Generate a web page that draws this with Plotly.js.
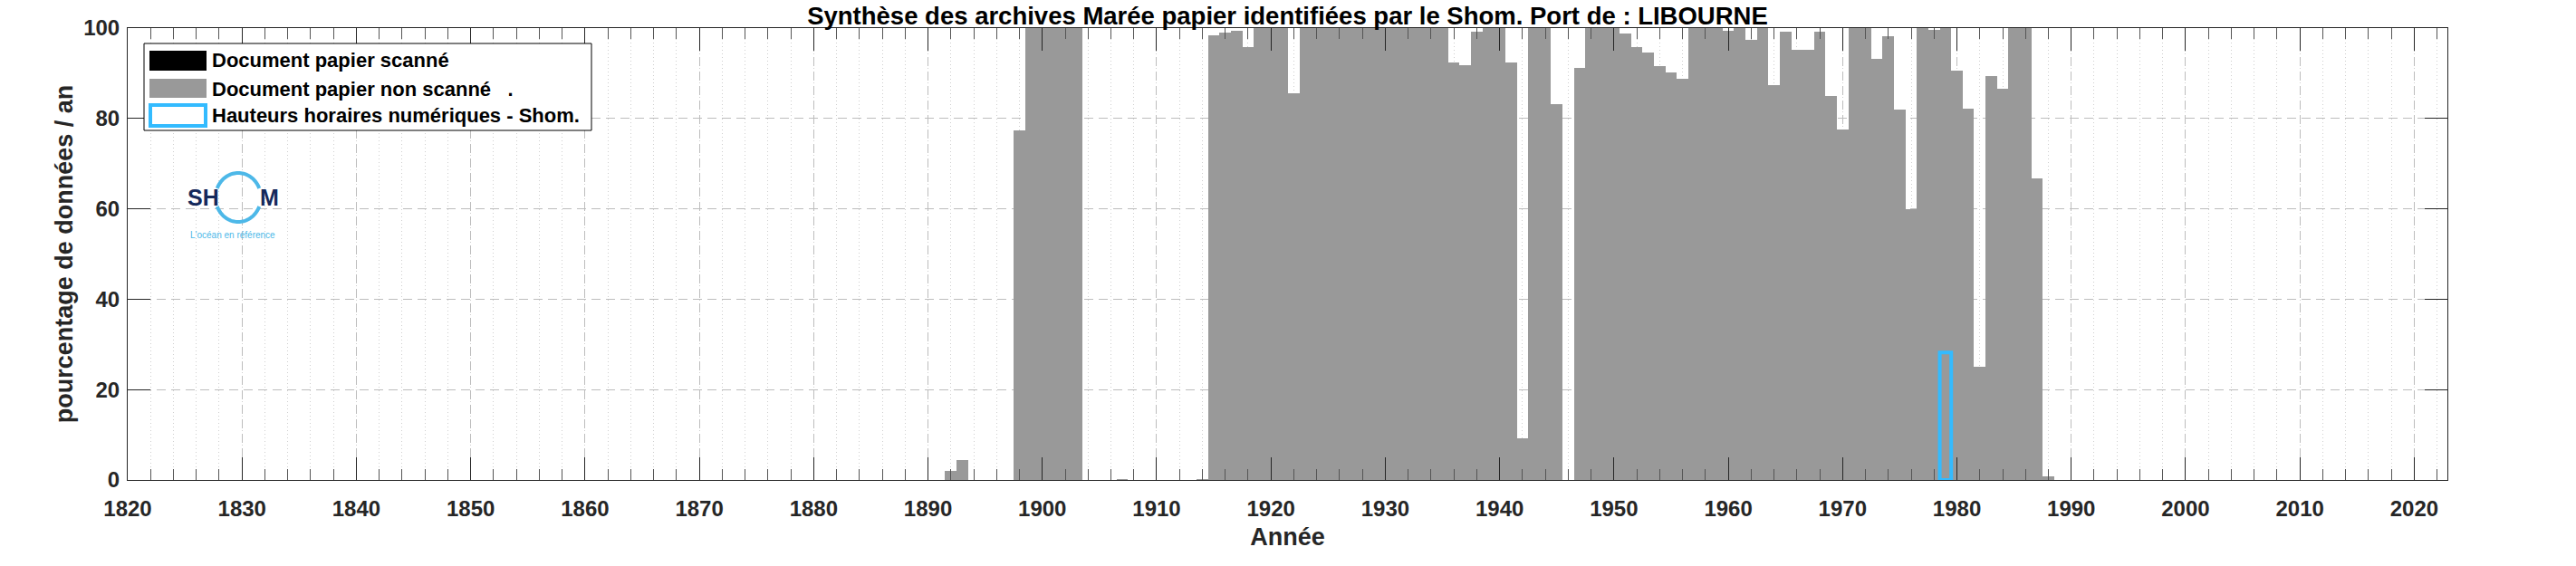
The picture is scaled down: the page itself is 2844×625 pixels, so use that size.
<!DOCTYPE html>
<html>
<head>
<meta charset="utf-8">
<script src="https://cdn.plot.ly/plotly-3.0.1.min.js"></script>
<style>
html,body{margin:0;padding:0;background:#ffffff;}
#chart{width:2844px;height:625px;}
</style>
</head>
<body>
<div id="chart"></div>
<script>
// ---------- DATA ----------
const chartTitle = "Synthèse des archives Marée papier identifiées par le Shom. Port de : LIBOURNE";
const xAxisTitle = "Année";
const yAxisTitle = "pourcentage de données / an";

// Document papier non scanné (% of data per year)
const nonScannedYears = [
  1892,1893,1898,1899,1900,1901,1902,1903,1907,1914,
  1915,1916,1917,1918,1919,1920,1921,1922,1923,1924,
  1925,1926,1927,1928,1929,1930,1931,1932,1933,1934,
  1935,1936,1937,1938,1939,1940,1941,1942,1943,1944,
  1945,1947,1948,1949,1950,1951,1952,1953,1954,1955,
  1956,1957,1958,1959,1960,1961,1962,1963,1964,1965,
  1966,1967,1968,1969,1970,1971,1972,1973,1974,1975,
  1976,1977,1978,1979,1980,1981,1982,1983,1984,1985,
  1986,1987,1988
];
const nonScannedValues = [
  2.0,4.5,77.3,100,100,100,100,100,0.2,0.2,
  98.3,98.9,99.4,95.7,100,100,100,85.5,100,100,
  100,100,100,100,100,100,100,100,100,100,
  100,92.4,91.8,99.2,100,100,92.3,9.3,100,100,
  83.1,91.2,100,100,100,98.7,95.7,94.5,91.5,90.1,
  88.8,100,100,100,99.5,100,97.3,100,87.4,99.2,
  95.1,95.1,99.2,85.0,77.5,100,100,93.2,98.1,81.9,
  59.9,100,99.7,100,90.5,82.2,25.1,89.3,86.6,100,
  100,66.8,0.9
];

// Document papier scanné : none for this port
const scannedYears = [];
const scannedValues = [];

// Hauteurs horaires numériques - Shom.
const digitalYears = [1979];
const digitalValues = [28.2];

const legendLabels = [
  "Document papier scanné",
  "Document papier non scanné   .",
  "Hauteurs horaires numériques - Shom."
];

const xTickVals = [1820,1830,1840,1850,1860,1870,1880,1890,1900,1910,1920,1930,1940,1950,1960,1970,1980,1990,2000,2010,2020];
const xTickText = ["1820","1830","1840","1850","1860","1870","1880","1890","1900","1910","1920","1930","1940","1950","1960","1970","1980","1990","2000","2010","2020"];
const yTickVals = [0,20,40,60,80,100];
const yTickText = ["0","20","40","60","80","100"];

// ---------- STYLE ----------
const FONT = "Liberation Sans, Arial, Helvetica, sans-serif";
const GRAY = "#999999";
const BLUE = "#33BBFF";
const AXC = "#262626";

const W = 2844, H = 625;
const M = {l:141, r:142, t:31, b:95};
const PW = W - M.l - M.r, PH = H - M.t - M.b;
const px = v => (v - M.l) / PW;          // pixel x -> paper x
const py = v => (H - M.b - v) / PH;      // pixel y -> paper y

const traces = [
  {
    type:'bar', name:legendLabels[1],
    x:nonScannedYears, y:nonScannedValues, width:1,
    marker:{color:GRAY, line:{width:0}},
    hoverinfo:'x+y'
  },
  {
    type:'bar', name:legendLabels[0],
    x:scannedYears, y:scannedValues, width:1,
    marker:{color:'#000000', line:{width:0}},
    hoverinfo:'x+y'
  },
  {
    type:'bar', name:legendLabels[2],
    x:digitalYears, y:digitalValues, width:1,
    marker:{color:'rgba(0,0,0,0)', line:{color:BLUE, width:4}},
    hoverinfo:'x+y'
  }
];

// ---------- custom legend (box, swatches, labels) ----------
const shapes = [];
const annotations = [];
shapes.push({type:'rect', xref:'paper', yref:'paper', layer:'above',
  x0:px(159), x1:px(653), y0:py(48), y1:py(144),
  line:{color:'#000000', width:1}, fillcolor:'#ffffff'});
const rowsY = [67, 98, 128];
shapes.push({type:'rect', xref:'paper', yref:'paper', layer:'above',
  x0:px(165), x1:px(228), y0:py(56), y1:py(78), line:{width:0}, fillcolor:'#000000'});
shapes.push({type:'rect', xref:'paper', yref:'paper', layer:'above',
  x0:px(165), x1:px(228), y0:py(87), y1:py(108), line:{width:0}, fillcolor:GRAY});
shapes.push({type:'rect', xref:'paper', yref:'paper', layer:'above',
  x0:px(166), x1:px(227), y0:py(116), y1:py(139), line:{color:BLUE, width:4}, fillcolor:'#ffffff'});
legendLabels.forEach((t,i) => {
  annotations.push({xref:'paper', yref:'paper', x:px(232), y:py(rowsY[i]),
    xanchor:'left', yanchor:'middle', showarrow:false, text:t,
    font:{family:FONT, size:22, color:'#000000', weight:'bold'}});
});

// ---------- SHOM logo (decorative) ----------
function arc(cx, cy, rx, ry, a0, a1){
  let d = '';
  const n = 40;
  for(let i=0;i<=n;i++){
    const a = (a0 + (a1-a0)*i/n) * Math.PI/180;
    const X = px(cx + rx*Math.cos(a)), Y = py(cy - ry*Math.sin(a));
    d += (i===0?'M':'L') + X + ',' + Y + ' ';
  }
  return d;
}
shapes.push({type:'path', xref:'paper', yref:'paper', layer:'above',
  path:arc(263,218,25,27,22,158), line:{color:'#4DB8E8', width:4}});
shapes.push({type:'path', xref:'paper', yref:'paper', layer:'above',
  path:arc(263,218,25,27,202,338), line:{color:'#4DB8E8', width:4}});
annotations.push({xref:'paper', yref:'paper', x:px(224), y:py(218), xanchor:'center', yanchor:'middle',
  showarrow:false, text:'SH', font:{family:FONT, size:25, color:'#15295B', weight:'bold'}});
annotations.push({xref:'paper', yref:'paper', x:px(297), y:py(218), xanchor:'center', yanchor:'middle',
  showarrow:false, text:'M', font:{family:FONT, size:25, color:'#15295B', weight:'bold'}});
annotations.push({xref:'paper', yref:'paper', x:px(257), y:py(259), xanchor:'center', yanchor:'middle',
  showarrow:false, text:"L'océan en référence", font:{family:FONT, size:10, color:'#4DB8E8'}});

const tickFont = {family:FONT, size:24, color:AXC, weight:'bold'};
const titleFont = {family:FONT, size:27, color:AXC, weight:'bold'};

const layout = {
  width:W, height:H,
  margin:{l:M.l, r:M.r, t:M.t, b:M.b, pad:0},
  paper_bgcolor:'#ffffff', plot_bgcolor:'#ffffff',
  barmode:'overlay', bargap:0,
  showlegend:false,
  title:{text:chartTitle, x:0.5, xref:'paper', xanchor:'center',
         y:1-17/H, yref:'container', yanchor:'middle',
         font:{family:FONT, size:27.5, color:'#000000', weight:'bold'}},
  xaxis:{
    range:[1820, 2022.9], autorange:false,
    tickmode:'array', tickvals:xTickVals, ticktext:xTickText,
    ticks:'inside', ticklen:25, tickwidth:1, tickcolor:AXC,
    showline:true, linecolor:AXC, linewidth:1, mirror:'ticks',
    showgrid:true, gridcolor:'#bdbdbd', gridwidth:1, griddash:'10px,6px',
    zeroline:false, tickfont:tickFont, ticklabelstandoff:10,
    minor:{tickmode:'linear', tick0:1820, dtick:2, ticks:'inside', ticklen:12, tickwidth:1,
           tickcolor:'#555555', showgrid:true, gridcolor:'#cfcfcf', gridwidth:1, griddash:'1px,3px'},
    title:{text:xAxisTitle, font:titleFont, standoff:9},
    automargin:false
  },
  yaxis:{
    range:[0,100], autorange:false,
    tickmode:'array', tickvals:yTickVals, ticktext:yTickText,
    ticks:'inside', ticklen:25, tickwidth:1, tickcolor:AXC,
    showline:true, linecolor:AXC, linewidth:1, mirror:'ticks',
    showgrid:true, gridcolor:'#bdbdbd', gridwidth:1, griddash:'10px,6px',
    zeroline:false, tickfont:tickFont, ticklabelstandoff:3,
    title:{text:yAxisTitle, font:titleFont, standoff:3},
    automargin:false
  },
  shapes:shapes,
  annotations:annotations
};

Plotly.newPlot('chart', traces, layout, {staticPlot:true, displayModeBar:false});
</script>
</body>
</html>
